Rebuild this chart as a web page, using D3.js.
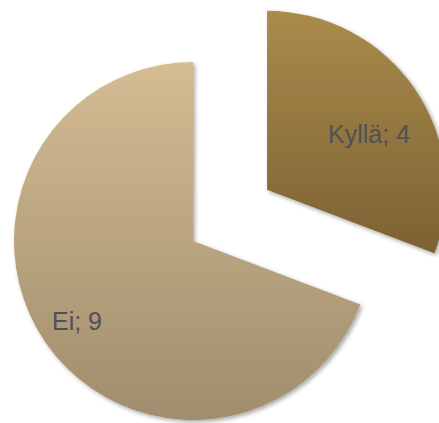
<!DOCTYPE html>
<html>
<head>
<meta charset="utf-8">
<script src="https://cdn.jsdelivr.net/npm/d3@7"></script>
<style>
  html, body { margin: 0; padding: 0; background: #fff; }
  svg { display: block; }
</style>
</head>
<body>
<svg id="chart" width="439" height="423"></svg>
<script>
// Answers and their counts
const categories = ["Kyllä", "Ei"];
const values = [4, 9];
// Vertical gradient stops for each slice (top, bottom)
const topColors = ["#aa8b4c", "#d4bc93"];
const bottomColors = ["#7b6233", "#a08d6d"];
// Slices pulled away from the centre
const exploded = [true, false];

const width = 439, height = 423;
const cx = 193, cy = 241, radius = 179, explode = 90;

const svg = d3.select("#chart");
const defs = svg.append("defs");

categories.forEach((c, i) => {
  const g = defs.append("linearGradient")
    .attr("id", "grad" + i)
    .attr("x1", 0).attr("y1", 0).attr("x2", 0).attr("y2", 1);
  g.append("stop").attr("offset", "0%").attr("stop-color", topColors[i]);
  g.append("stop").attr("offset", "100%").attr("stop-color", bottomColors[i]);
});

const shadow = defs.append("filter").attr("id", "shadow")
  .attr("x", "-10%").attr("y", "-10%").attr("width", "130%").attr("height", "130%");
shadow.append("feDropShadow")
  .attr("dx", 2).attr("dy", 2).attr("stdDeviation", 2)
  .attr("flood-color", "#000").attr("flood-opacity", 0.35);

const data = categories.map((c, i) => ({ name: c, value: values[i], idx: i }));
const pie = d3.pie().value(d => d.value).sort(null);
const arcs = pie(data);
const arc = d3.arc().innerRadius(0).outerRadius(radius);

const root = svg.append("g").attr("transform", `translate(${cx},${cy})`);

const slice = root.selectAll("g.slice")
  .data(arcs)
  .join("g")
  .attr("class", "slice")
  .attr("transform", d => {
    if (!exploded[d.data.idx]) return null;
    const mid = (d.startAngle + d.endAngle) / 2;
    return `translate(${Math.sin(mid) * explode},${-Math.cos(mid) * explode})`;
  });

slice.append("path")
  .attr("d", arc)
  .attr("fill", d => `url(#grad${d.data.idx})`)
  .attr("filter", "url(#shadow)");

// Data labels: "name; value", placed relative to each slice's own centre
const labelPos = [[61, -47], [-141, 89]];
slice.append("text")
  .attr("x", d => labelPos[d.data.idx][0])
  .attr("y", d => labelPos[d.data.idx][1])
  .attr("font-family", "Liberation Sans, Arial, sans-serif")
  .attr("font-size", 25)
  .attr("fill", "#4f5058")
  .text(d => `${d.data.name}; ${d.data.value}`);
</script>
</body>
</html>
